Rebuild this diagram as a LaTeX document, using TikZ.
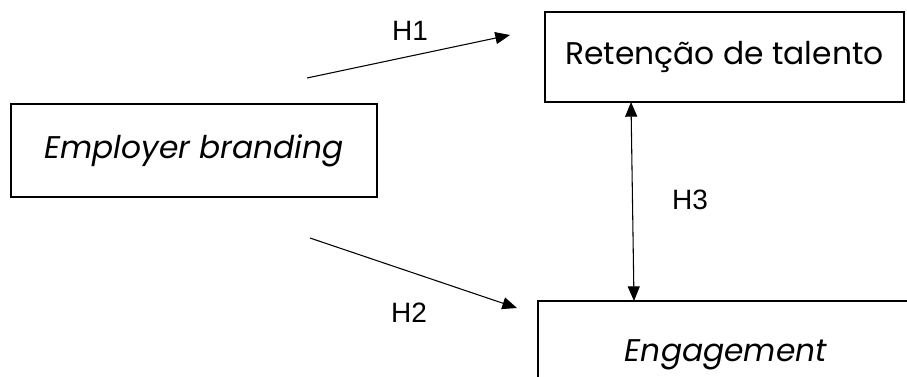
\documentclass[tikz,border=0pt]{standalone}
\usepackage{fontspec}
\setmainfont{Poppins}
\newfontfamily\hfont{Liberation Sans}
\usetikzlibrary{arrows.meta}
\begin{document}
\begin{tikzpicture}[x=0.75pt,y=-0.75pt,
  box/.style={draw=black,line width=0.8pt,fill=white,inner sep=0pt,font=\fontsize{23.5}{28}\selectfont},
  conn/.style={line width=0.8pt,-{Triangle[length=11pt,width=9pt]}},
  hlab/.style={font=\hfont\fontsize{21}{25}\selectfont}]
\useasboundingbox (0,0) rectangle (907,376);
\clip (0,0) rectangle (907,376);
\fill[white] (0,0) rectangle (907,376);
\node[box,minimum width=359*0.75pt,minimum height=90*0.75pt] (ret) at (724.5,57) {Retenção de talento};
\node[box,minimum width=366*0.75pt,minimum height=93*0.75pt] (emp) at (194,150.5) {\itshape Employer branding};
\node[box,minimum width=376*0.75pt,minimum height=108*0.75pt] (eng) at (726,355) {\itshape Engagement};
\coordinate (h1s) at (307,78);
\coordinate (h1e) at (510,35);
\coordinate (h2s) at (310,238);
\coordinate (h2e) at (517,308);
\coordinate (h3a) at (631,102);
\coordinate (h3b) at (634,301);
\draw[conn] (h1s) -- (h1e);
\draw[conn] (h2s) -- (h2e);
\draw[line width=0.8pt,{Triangle[length=11pt,width=9pt]}-{Triangle[length=11pt,width=9pt]}] (h3a) -- (h3b);
\node[hlab] (l1) at (410,31) {H1};
\node[hlab] (l2) at (409,313) {H2};
\node[hlab] (l3) at (690,200) {H3};
\end{tikzpicture}
\end{document}
